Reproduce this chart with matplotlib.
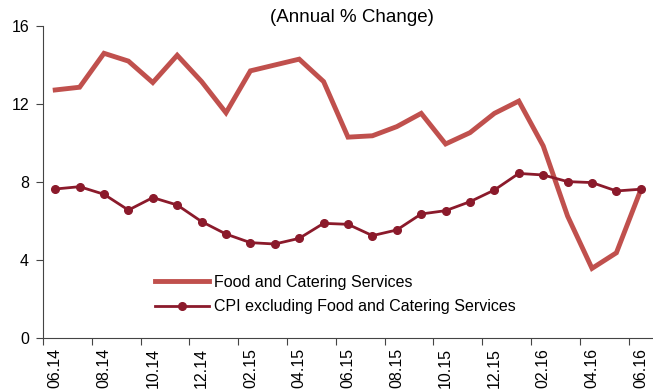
import matplotlib
matplotlib.use("Agg")
import matplotlib.pyplot as plt

plt.rcParams['font.family'] = ['Liberation Sans', 'DejaVu Sans']

months = ["06.14", "07.14", "08.14", "09.14", "10.14", "11.14", "12.14", "01.15",
          "02.15", "03.15", "04.15", "05.15", "06.15", "07.15", "08.15", "09.15",
          "10.15", "11.15", "12.15", "01.16", "02.16", "03.16", "04.16", "05.16", "06.16"]

food = [12.72, 12.86, 14.6, 14.2, 13.1, 14.5, 13.15, 11.55, 13.7, 14.0, 14.3, 13.15,
        10.3, 10.37, 10.84, 11.52, 9.95, 10.53, 11.52, 12.15, 9.85, 6.25, 3.57, 4.37, 7.6]

cpi_ex = [7.64, 7.76, 7.37, 6.56, 7.2, 6.82, 5.97, 5.33, 4.89, 4.82, 5.11, 5.88,
          5.83, 5.25, 5.54, 6.36, 6.53, 6.99, 7.59, 8.44, 8.36, 8.02, 7.97, 7.54, 7.63]

x = list(range(len(months)))

fig = plt.figure(figsize=(6.53, 3.9), dpi=100)
ax = fig.add_axes([43 / 653, 52 / 390, 610 / 653, 312 / 390])

ax.plot(x, food, color="#C0504D", lw=3.5, solid_joinstyle="miter",
        label="Food and Catering Services")
ax.plot(x, cpi_ex, color="#8B1A2B", lw=2, marker="o", ms=5.5,
        label="CPI excluding Food and Catering Services")

ax.set_xlim(-0.5, 24.5)
ax.set_ylim(0, 16)
ax.set_yticks([0, 4, 8, 12, 16])
ax.set_xticks([i - 0.5 for i in range(0, 25, 2)])
ax.set_xticks(x[::2], minor=True)
ax.set_xticklabels([])
ax.set_xticklabels(months[::2], minor=True, rotation=90)
ax.tick_params(axis="x", which="minor", length=0, pad=7, labelsize=11.5)
ax.tick_params(axis="x", which="major", length=5, color="#444444")
ax.tick_params(axis="y", length=5, labelsize=11.5, color="#444444", pad=5)

for s in ["top", "right"]:
    ax.spines[s].set_visible(False)
for s in ["left", "bottom"]:
    ax.spines[s].set_color("#444444")

ax.legend(loc="lower left", bbox_to_anchor=(0.16, 0.03), frameon=False,
          fontsize=11.5, handlelength=3.4, handletextpad=0.3, labelspacing=0.6)

fig.text(352 / 653, 1 - 18 / 390, "(Annual % Change)", ha="center", va="center", fontsize=13.5)

fig.savefig("out.png", dpi=100)
